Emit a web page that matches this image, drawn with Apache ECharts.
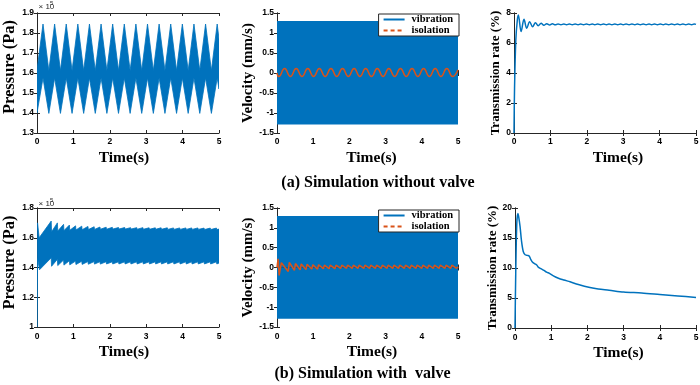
<!DOCTYPE html>
<html><head><meta charset="utf-8">
<script src="https://cdn.jsdelivr.net/npm/echarts@6/dist/echarts.min.js"></script>
<style>html,body{margin:0;padding:0;background:#fff}#c{width:700px;height:385px}</style>
</head><body><div id="c"></div>
<script>
// ================= DATA =================
// Time axis ticks (s)
const timeTicks = [0, 1, 2, 3, 4, 5];

// (a) Pressure without valve, envelope of dense oscillation, unit x10^5 Pa  [t, p]
const pressureA_upper = [[0,1.615],[0.165,1.845],[0.325,1.612],[0.484,1.845],[0.644,1.612],[0.803,1.845],[0.963,1.612],[1.122,1.845],[1.282,1.612],[1.441,1.845],[1.601,1.612],[1.760,1.845],[1.920,1.612],[2.079,1.845],[2.239,1.612],[2.398,1.845],[2.558,1.612],[2.717,1.845],[2.877,1.612],[3.036,1.845],[3.196,1.612],[3.355,1.845],[3.515,1.612],[3.674,1.845],[3.834,1.612],[3.993,1.845],[4.153,1.612],[4.312,1.845],[4.472,1.612],[4.631,1.845],[4.791,1.612],[4.950,1.845],[5,1.77]];
const pressureA_lower = [[0,1.40],[0.165,1.575],[0.325,1.398],[0.484,1.575],[0.644,1.398],[0.803,1.575],[0.963,1.398],[1.122,1.575],[1.282,1.398],[1.441,1.575],[1.601,1.398],[1.760,1.575],[1.920,1.398],[2.079,1.575],[2.239,1.398],[2.398,1.575],[2.558,1.398],[2.717,1.575],[2.877,1.398],[3.036,1.575],[3.196,1.398],[3.355,1.575],[3.515,1.398],[3.674,1.575],[3.834,1.398],[3.993,1.575],[4.153,1.398],[4.312,1.575],[4.472,1.398],[4.631,1.575],[4.791,1.398],[4.950,1.575],[5,1.52]];

// (a) Velocity without valve (mm/s)
const vibrationA_upper = [[0,1.28],[5,1.28]];
const vibrationA_lower = [[0,-1.27],[5,-1.27]];
const isolationA = [[0,0.0],[0.05,-0.09],[0.21,0.11],[0.37,-0.09],[0.53,0.11],[0.69,-0.09],[0.85,0.11],[1.01,-0.09],[1.17,0.11],[1.33,-0.09],[1.49,0.11],[1.65,-0.09],[1.81,0.11],[1.97,-0.09],[2.13,0.11],[2.29,-0.09],[2.45,0.11],[2.61,-0.09],[2.77,0.11],[2.93,-0.09],[3.09,0.11],[3.25,-0.09],[3.41,0.11],[3.57,-0.09],[3.73,0.11],[3.89,-0.09],[4.05,0.11],[4.21,-0.09],[4.37,0.11],[4.53,-0.09],[4.69,0.11],[4.85,-0.09],[5,0.08]];

// (a) Transmission rate without valve (%)
const rateA = [[0,0],[0.015,3.0],[0.05,6.2],[0.09,7.5],[0.12,7.87],[0.195,6.76],[0.275,7.58],[0.35,6.98],[0.43,7.42],[0.51,7.09],[0.59,7.35],[0.665,7.15],[0.745,7.31],[0.82,7.18],[0.9,7.29],[0.98,7.2],[1.055,7.28],[1.135,7.21],[1.21,7.27],[1.29,7.22],[1.37,7.27],[1.445,7.22],[1.52,7.27],[1.6,7.22],[1.68,7.27],[1.76,7.22],[1.83,7.27],[1.91,7.22],[1.99,7.27],[2.07,7.22],[2.15,7.27],[2.22,7.22],[2.3,7.27],[2.38,7.22],[2.46,7.27],[2.54,7.22],[2.61,7.27],[2.69,7.22],[2.77,7.27],[2.85,7.22],[2.93,7.27],[3.0,7.22],[3.08,7.27],[3.16,7.22],[3.24,7.27],[3.32,7.22],[3.39,7.27],[3.47,7.22],[3.55,7.27],[3.63,7.22],[3.71,7.27],[3.78,7.22],[3.86,7.27],[3.94,7.22],[4.02,7.27],[4.1,7.22],[4.17,7.27],[4.25,7.22],[4.33,7.27],[4.41,7.22],[4.49,7.27],[4.56,7.22],[4.64,7.27],[4.72,7.22],[4.8,7.27],[4.88,7.22],[4.95,7.27],[5,7.24]];

// (b) Pressure with valve, envelope, unit x10^5 Pa
const pressureB_upper = [[0,1.0],[0.015,1.70],[0.06,1.60],[0.39,1.712],[0.40,1.64],[0.56,1.70],[0.57,1.645],[0.73,1.69],[0.74,1.648],[0.89,1.685],[0.90,1.65],[1.06,1.68],[1.07,1.652],[1.23,1.678],[1.24,1.654],[1.40,1.676],[1.41,1.655],[1.57,1.674],[1.58,1.656],[1.73,1.672],[1.74,1.657],[1.90,1.671],[1.91,1.657],[2.07,1.67],[2.08,1.658],[2.24,1.669],[2.25,1.658],[2.41,1.669],[2.42,1.658],[2.57,1.668],[2.58,1.658],[2.74,1.668],[2.75,1.657],[2.91,1.668],[2.92,1.657],[3.08,1.667],[3.09,1.657],[3.25,1.667],[3.26,1.657],[3.41,1.667],[3.42,1.657],[3.58,1.667],[3.59,1.656],[3.75,1.666],[3.76,1.656],[3.92,1.666],[3.93,1.656],[4.09,1.666],[4.10,1.656],[4.25,1.666],[4.26,1.656],[4.42,1.666],[4.43,1.656],[4.59,1.665],[4.60,1.655],[4.76,1.665],[4.77,1.655],[4.93,1.665],[4.94,1.655],[5,1.658]];
const pressureB_lower = [[0,1.0],[0.015,1.46],[0.07,1.385],[0.39,1.465],[0.40,1.408],[0.56,1.455],[0.57,1.413],[0.73,1.45],[0.74,1.416],[0.89,1.446],[0.90,1.418],[1.06,1.443],[1.07,1.42],[1.23,1.442],[1.24,1.421],[1.40,1.44],[1.41,1.422],[1.57,1.44],[1.58,1.423],[1.73,1.439],[1.74,1.423],[1.90,1.439],[1.91,1.424],[2.07,1.438],[2.08,1.424],[2.24,1.438],[2.25,1.424],[2.41,1.438],[2.42,1.424],[2.57,1.438],[2.58,1.424],[2.74,1.438],[2.75,1.424],[2.91,1.438],[2.92,1.424],[3.08,1.438],[3.09,1.424],[3.25,1.438],[3.26,1.424],[3.41,1.438],[3.42,1.424],[3.58,1.438],[3.59,1.424],[3.75,1.438],[3.76,1.424],[3.92,1.438],[3.93,1.424],[4.09,1.438],[4.10,1.424],[4.25,1.438],[4.26,1.424],[4.42,1.438],[4.43,1.424],[4.59,1.438],[4.60,1.424],[4.76,1.438],[4.77,1.424],[4.93,1.438],[4.94,1.424],[5,1.43]];

// (b) Velocity with valve (mm/s)
const vibrationB_upper = [[0,1.28],[5,1.28]];
const vibrationB_lower = [[0,-1.27],[5,-1.27]];
const isolationB = [[0,0],[0.03,0.22],[0.06,-0.2],[0.12,0.12],[0.31,-0.1],[0.34,0.13],[0.48,-0.07],[0.51,0.1],[0.64,-0.06],[0.67,0.09],[0.8,-0.05],[0.83,0.08],[0.96,-0.04],[0.99,0.07],[1.12,-0.04],[1.15,0.07],[1.28,-0.03],[1.31,0.06],[1.44,-0.03],[1.47,0.06],[1.6,-0.03],[1.63,0.06],[1.76,-0.02],[1.79,0.06],[1.92,-0.02],[1.95,0.06],[2.08,-0.02],[2.11,0.06],[2.24,-0.02],[2.27,0.06],[2.4,-0.02],[2.43,0.06],[2.56,-0.02],[2.59,0.06],[2.72,-0.02],[2.75,0.06],[2.88,-0.02],[2.91,0.06],[3.04,-0.02],[3.07,0.06],[3.2,-0.02],[3.23,0.06],[3.36,-0.02],[3.39,0.06],[3.52,-0.02],[3.55,0.06],[3.68,-0.02],[3.71,0.06],[3.84,-0.02],[3.87,0.06],[4.0,-0.02],[4.03,0.06],[4.16,-0.02],[4.19,0.06],[4.32,-0.02],[4.35,0.06],[4.48,-0.02],[4.51,0.06],[4.64,-0.02],[4.67,0.06],[4.8,-0.02],[4.83,0.06],[4.96,-0.02],[5,0.02]];

// (b) Transmission rate with valve (%)
const rateB = [[0,0],[0.02,9],[0.05,17.5],[0.08,19.1],[0.1,18.6],[0.14,16.9],[0.18,14.5],[0.23,12.7],[0.28,12.2],[0.34,12.1],[0.39,12.0],[0.43,11.5],[0.48,11.0],[0.55,10.7],[0.6,10.5],[0.65,10.1],[0.74,9.8],[0.8,9.6],[0.87,9.3],[0.95,9.1],[1.06,8.7],[1.2,8.3],[1.35,8.0],[1.52,7.7],[1.75,7.25],[2.07,6.75],[2.3,6.5],[2.6,6.3],[3.0,6.0],[3.5,5.85],[4.0,5.6],[4.5,5.35],[5.0,5.1]];

// Axis settings (tick labels come from these)
const yAxesCfg = [
  {min:1.3, max:1.9, interval:0.1, title:'Pressure (Pa)'},
  {min:-1.5, max:1.5, interval:0.5, title:'Velocity (mm/s)'},
  {min:0, max:8, interval:2, title:'Transmission rate (%)'},
  {min:1, max:1.8, interval:0.2, title:'Pressure (Pa)'},
  {min:-1.5, max:1.5, interval:0.5, title:'Velocity (mm/s)'},
  {min:0, max:20, interval:5, title:'Transmission rate (%)'}
];
const xTitle = 'Time(s)';
const captions = ['(a) Simulation without valve', '(b) Simulation with  valve'];
const legendNames = ['vibration', 'isolation'];

// ================= STYLE / LAYOUT =================
const BLUE = '#0072BD', ORANGE = '#D95319', AX = '#262626';
const SERIF = '"Liberation Serif","Times New Roman",serif';
const SANS = '"Liberation Sans",Arial,sans-serif';
const grids = [
  {left:37, top:13, width:182, height:120},
  {left:277, top:13, width:181, height:120},
  {left:514, top:13, width:182, height:120},
  {left:37, top:208, width:182, height:119},
  {left:277, top:208, width:181, height:119},
  {left:515, top:208, width:181, height:120}
];
const yTitleStyle = [
  {size:16.5, gap:19, pad:[0,0,0,12]}, {size:15, gap:19, pad:0}, {size:13, gap:10, pad:0},
  {size:16.5, gap:19, pad:[0,0,0,10]}, {size:15, gap:19, pad:0}, {size:13, gap:10, pad:0}
];
const xTitlePad = [[0,8,0,0],[0,0,0,8],[0,0,0,26],[0,8,0,0],[0,0,0,9],[0,0,0,26]];
const xLabelMargin = [4,4,4,5,5,5];

const xAxes = [], yAxes = [];
grids.forEach((g, i) => {
  g.outerBoundsMode = 'none';
  xAxes.push({
    type:'value', gridIndex:i, position:'bottom', min:timeTicks[0], max:timeTicks[timeTicks.length-1], interval:1,
    axisLine:{show:true, lineStyle:{color:AX, width:1}},
    axisTick:{show:true, inside:true, length:3, lineStyle:{color:AX}},
    axisLabel:{show:true, margin:xLabelMargin[i], color:'#000', fontFamily:SANS, fontWeight:'bold', fontSize:8.5},
    splitLine:{show:false},
    name:xTitle, nameLocation:'middle', nameGap:17,
    nameTextStyle:{fontFamily:SERIF, fontWeight:'bold', fontSize:15.5, color:'#000', padding:xTitlePad[i]}
  });
  xAxes.push({
    type:'value', gridIndex:i, position:'top', min:timeTicks[0], max:timeTicks[timeTicks.length-1], interval:1,
    axisLine:{show:true, lineStyle:{color:AX, width:1}},
    axisTick:{show:true, inside:true, length:3, lineStyle:{color:AX}},
    axisLabel:{show:false}, splitLine:{show:false}
  });
  const yc = yAxesCfg[i];
  yAxes.push({
    type:'value', gridIndex:i, position:'left', min:yc.min, max:yc.max, interval:yc.interval,
    axisLine:{show:true, lineStyle:{color:AX, width:1}},
    axisTick:{show:true, inside:true, length:3, lineStyle:{color:AX}},
    axisLabel:{show:true, margin:3, color:'#000', fontFamily:SANS, fontWeight:'bold', fontSize:8.5},
    splitLine:{show:false},
    name:yc.title, nameLocation:'middle', nameGap:yTitleStyle[i].gap,
    nameTextStyle:{fontFamily:SERIF, fontWeight:'bold', fontSize:yTitleStyle[i].size, color:'#000', padding:yTitleStyle[i].pad}
  });
  yAxes.push({
    type:'value', gridIndex:i, position:'right', min:yc.min, max:yc.max, interval:yc.interval,
    axisLine:{show:true, lineStyle:{color:AX, width:1}},
    axisTick:{show:true, inside:true, length:3, lineStyle:{color:AX}},
    axisLabel:{show:false}, splitLine:{show:false}
  });
});

function bandSeries(gi, upper, lower, color){
  return {
    type:'custom', xAxisIndex:gi*2, yAxisIndex:gi*2, clip:true, silent:true, z:2,
    data:[[upper[0][0], upper[0][1]]],
    encode:{x:0, y:1},
    renderItem:function(params, api){
      const pts = upper.map(p => api.coord(p)).concat(lower.slice().reverse().map(p => api.coord(p)));
      return {type:'polygon', shape:{points:pts}, style:{fill:color, stroke:color, lineWidth:0.8}};
    }
  };
}
function areaLine(gi, name, data, color){
  return {type:'line', name:name, xAxisIndex:gi*2, yAxisIndex:gi*2, data:data, symbol:'none', showSymbol:false,
    lineStyle:{color:color, width:1.5}, itemStyle:{color:color}, areaStyle:{color:color, opacity:1}, z:2, silent:true};
}
function plainLine(gi, name, data, color, smooth){
  return {type:'line', name:name, xAxisIndex:gi*2, yAxisIndex:gi*2, data:data, symbol:'none', showSymbol:false,
    smooth:smooth, lineStyle:{color:color, width:1.5}, itemStyle:{color:color}, z:3, silent:true};
}

const series = [
  bandSeries(0, pressureA_upper, pressureA_lower, BLUE),
  areaLine(1, legendNames[0], vibrationA_upper, BLUE),
  areaLine(1, legendNames[0], vibrationA_lower, BLUE),
  plainLine(1, legendNames[1], isolationA, ORANGE, 0.5),
  plainLine(2, 'rateA', rateA, BLUE, 0.35),
  bandSeries(3, pressureB_upper, pressureB_lower, BLUE),
  areaLine(4, legendNames[0], vibrationB_upper, BLUE),
  areaLine(4, legendNames[0], vibrationB_lower, BLUE),
  plainLine(4, legendNames[1], isolationB, ORANGE, false),
  plainLine(5, 'rateB', rateB, BLUE, 0.3)
];

function makeLegend(top){
  return {
    orient:'vertical', right:241, top:top, itemWidth:21, itemHeight:10, itemGap:0,
    padding:[0,6,0,4], borderColor:AX, borderWidth:1, backgroundColor:'#fff', selectedMode:false, z:10,
    itemStyle:{opacity:0, borderWidth:0},
    textStyle:{fontFamily:SERIF, fontWeight:'bold', fontSize:10.5, color:'#000', padding:[0,0,0,2]},
    data:[{name:legendNames[0]}, {name:legendNames[1], lineStyle:{type:[4,3]}}]
  };
}

const graphic = [
  {type:'text', x:378, y:183, style:{text:captions[0], font:'bold 16px ' + SERIF, fill:'#000', textAlign:'center', textVerticalAlign:'middle'}},
  {type:'text', x:362.5, y:374, style:{text:captions[1], font:'bold 16px ' + SERIF, fill:'#000', textAlign:'center', textVerticalAlign:'middle'}},
  {type:'text', x:38.5, y:7, style:{text:'\u00d7 10', font:'8px ' + SANS, fill:AX, textAlign:'left', textVerticalAlign:'middle'}},
  {type:'text', x:50, y:3.5, style:{text:'5', font:'6px ' + SANS, fill:AX, textAlign:'left', textVerticalAlign:'middle'}},
  {type:'text', x:38.5, y:203.5, style:{text:'\u00d7 10', font:'8px ' + SANS, fill:AX, textAlign:'left', textVerticalAlign:'middle'}},
  {type:'text', x:50, y:200, style:{text:'5', font:'6px ' + SANS, fill:AX, textAlign:'left', textVerticalAlign:'middle'}}
];

const chart = echarts.init(document.getElementById('c'), null, {renderer:'canvas'});
chart.setOption({
  animation:false,
  backgroundColor:'#fff',
  grid:grids,
  xAxis:xAxes,
  yAxis:yAxes,
  legend:[makeLegend(14), makeLegend(210)],
  series:series,
  graphic:graphic
});
</script>
</body></html>
